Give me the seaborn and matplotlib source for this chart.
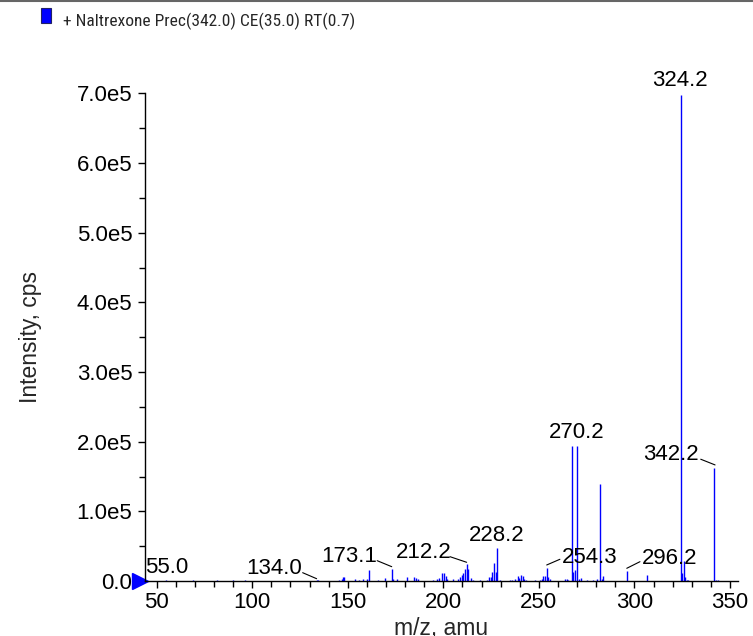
import matplotlib
matplotlib.use('Agg')
import matplotlib.pyplot as plt
import matplotlib.ticker as mticker
import matplotlib.transforms as mtransforms
from matplotlib import font_manager
from matplotlib.patches import Rectangle
from matplotlib.lines import Line2D
import seaborn as sns
import pandas as pd

# product ion spectrum, m/z and intensity (cps)
mz = [54.7, 69.2, 81.4, 84.0, 90.1, 96.2, 133.7, 134.2, 145.5, 146.8, 147.6, 148.2,
      153.8, 156.0, 158.0, 159.9, 161.3, 166.0, 169.5, 173.0, 173.8, 175.8,
      181.1, 184.6, 185.7, 186.9, 194.6, 196.5, 197.7, 199.1, 200.3, 201.4, 202.1,
      205.0, 207.7, 208.7, 209.6, 210.4, 211.3, 212.2, 213.1, 214.3, 215.7,
      219.2, 222.7, 223.9, 224.8, 225.6, 226.5, 227.4, 228.2, 229.6,
      234.8, 235.8, 237.5, 239.0, 239.8, 240.6, 241.5, 242.2, 243.2,
      248.0, 250.6, 251.5, 252.3, 253.0, 254.1, 254.9, 255.8,
      263.7, 264.5, 265.4, 267.2, 268.0, 268.9, 270.2, 271.0, 271.9,
      275.0, 278.2, 280.3, 282.0, 282.9, 283.7,
      296.0, 306.4, 324.2, 325.1, 326.0, 326.5, 327.3, 328.2,
      341.8, 342.7, 343.9]
intensity = [1200, 800, 900, 700, 1000, 900, 1500, 1800, 1500, 3400, 6200, 5700,
             2500, 2000, 3000, 2500, 15800, 2000, 3800, 16800, 3000, 2800,
             5700, 5700, 3800, 3000, 2000, 3300, 4300, 12000, 11000, 6500, 3300,
             2500, 2500, 6200, 8100, 12000, 16800, 23900, 17700, 3800, 1500,
             2000, 2000, 5300, 5300, 13400, 26300, 13000, 47900, 2000,
             1500, 2000, 2500, 7000, 5000, 8100, 7200, 3500, 1800,
             2000, 2000, 3300, 7700, 7200, 18500, 6200, 2400,
             3300, 3300, 1900, 194000, 12900, 15300, 194000, 2400, 4800,
             1500, 2000, 2400, 140000, 3300, 7200,
             15000, 8100, 698000, 12000, 28700, 5500, 2000, 2000,
             162000, 1500, 1500]

# labelled peaks
label_text = ["55.0", "134.0", "173.1", "212.2", "228.2", "254.3",
              "270.2", "296.2", "342.2", "324.2"]
label_pos = [(44.1, 19400), (97.1, 17240), (136.3, 34480), (175.2, 40950),
             (213.4, 64660), (261.9, 33760), (255.3, 213360), (303.8, 32610),
             (304.6, 181030), (309.5, 719100)]
leaders = [((126.4, 11930), (133.7, 3300)),
           ((165.4, 29170), (173.0, 20550)),
           ((203.5, 34910), (212.2, 26870)),
           ((254.1, 22990), (261.0, 31180)),
           ((296.0, 18250), (302.9, 27730)),
           ((334.7, 174860), (342.2, 166670))]

title = "+ Naltrexone Prec(342.0) CE(35.0) RT(0.7)"

df = pd.DataFrame({"mz": mz, "intensity": intensity})

sns.set_theme(style="ticks")
plt.rcParams['font.family'] = ['Liberation Sans', 'DejaVu Sans']

# header font: a narrow face if there is one, else a smaller regular one
installed = {f.name for f in font_manager.fontManager.ttflist}
narrow = [n for n in ["Liberation Sans Narrow", "Roboto Condensed", "Open Sans Condensed"]
          if n in installed]
if narrow:
    title_family, title_size = [narrow[0], "DejaVu Sans"], 12.5
else:
    title_family, title_size = ["Liberation Sans", "DejaVu Sans"], 12

W, H = 753, 636
fig = plt.figure(figsize=(W / 100, H / 100), dpi=100)
ax = fig.add_axes([145 / W, 1 - 581 / H, (738 - 145) / W, (581 - 93.5) / H])

ax.vlines(df["mz"], 0, df["intensity"], color="#0000ff", linewidth=1.0)

ax.set_xlim(43.9, 354.2)
ax.set_ylim(0, 7.0e5)
ax.xaxis.set_major_locator(mticker.MultipleLocator(50))
ax.xaxis.set_minor_locator(mticker.MultipleLocator(10))
ax.yaxis.set_major_locator(mticker.MultipleLocator(1e5))
ax.yaxis.set_minor_locator(mticker.MultipleLocator(5e4))
ax.yaxis.set_major_formatter(mticker.FuncFormatter(
    lambda v, p: "0.0" if v == 0 else f"{v / 1e5:.1f}e5"))
ax.tick_params(axis="both", which="major", length=5, width=1, labelsize=16,
               pad=3, color="black", labelcolor="black")
ax.tick_params(axis="y", which="major", pad=4)
ax.tick_params(axis="both", which="minor", length=4, width=1, color="black")
sns.despine(ax=ax)
for s in ["left", "bottom"]:
    ax.spines[s].set_color("black")
    ax.spines[s].set_linewidth(1.0)

ax.set_xlabel("m/z, amu", fontsize=16.5, labelpad=3)
ax.set_ylabel("Intensity, cps", fontsize=16.5, labelpad=25)

for txt, (x, y) in zip(label_text, label_pos):
    ax.text(x, y, txt, fontsize=16, ha="left", va="center", color="black")
for (x0, y0), (x1, y1) in leaders:
    ax.plot([x0, x1], [y0, y1], color="black", linewidth=0.8)

# blue marker at the left end of the baseline
trans = mtransforms.blended_transform_factory(ax.transAxes, ax.transData)
ax.plot([-0.009], [0], marker=">", markersize=11, color="#0000ff",
        transform=trans, clip_on=False)

# header with coloured box
fig.add_artist(Line2D([0, 1], [1 - 1 / H, 1 - 1 / H], color="#666666", linewidth=1.5))
fig.add_artist(Rectangle((41 / W, 1 - 23 / H), 10 / W, 15 / H, facecolor="#0000ff",
                         edgecolor="#222266", linewidth=0.8))
fig.text(63 / W, 1 - 21 / H, title, fontsize=title_size, ha="left", va="center",
         family=title_family)

fig.savefig("out.png", dpi=100)
